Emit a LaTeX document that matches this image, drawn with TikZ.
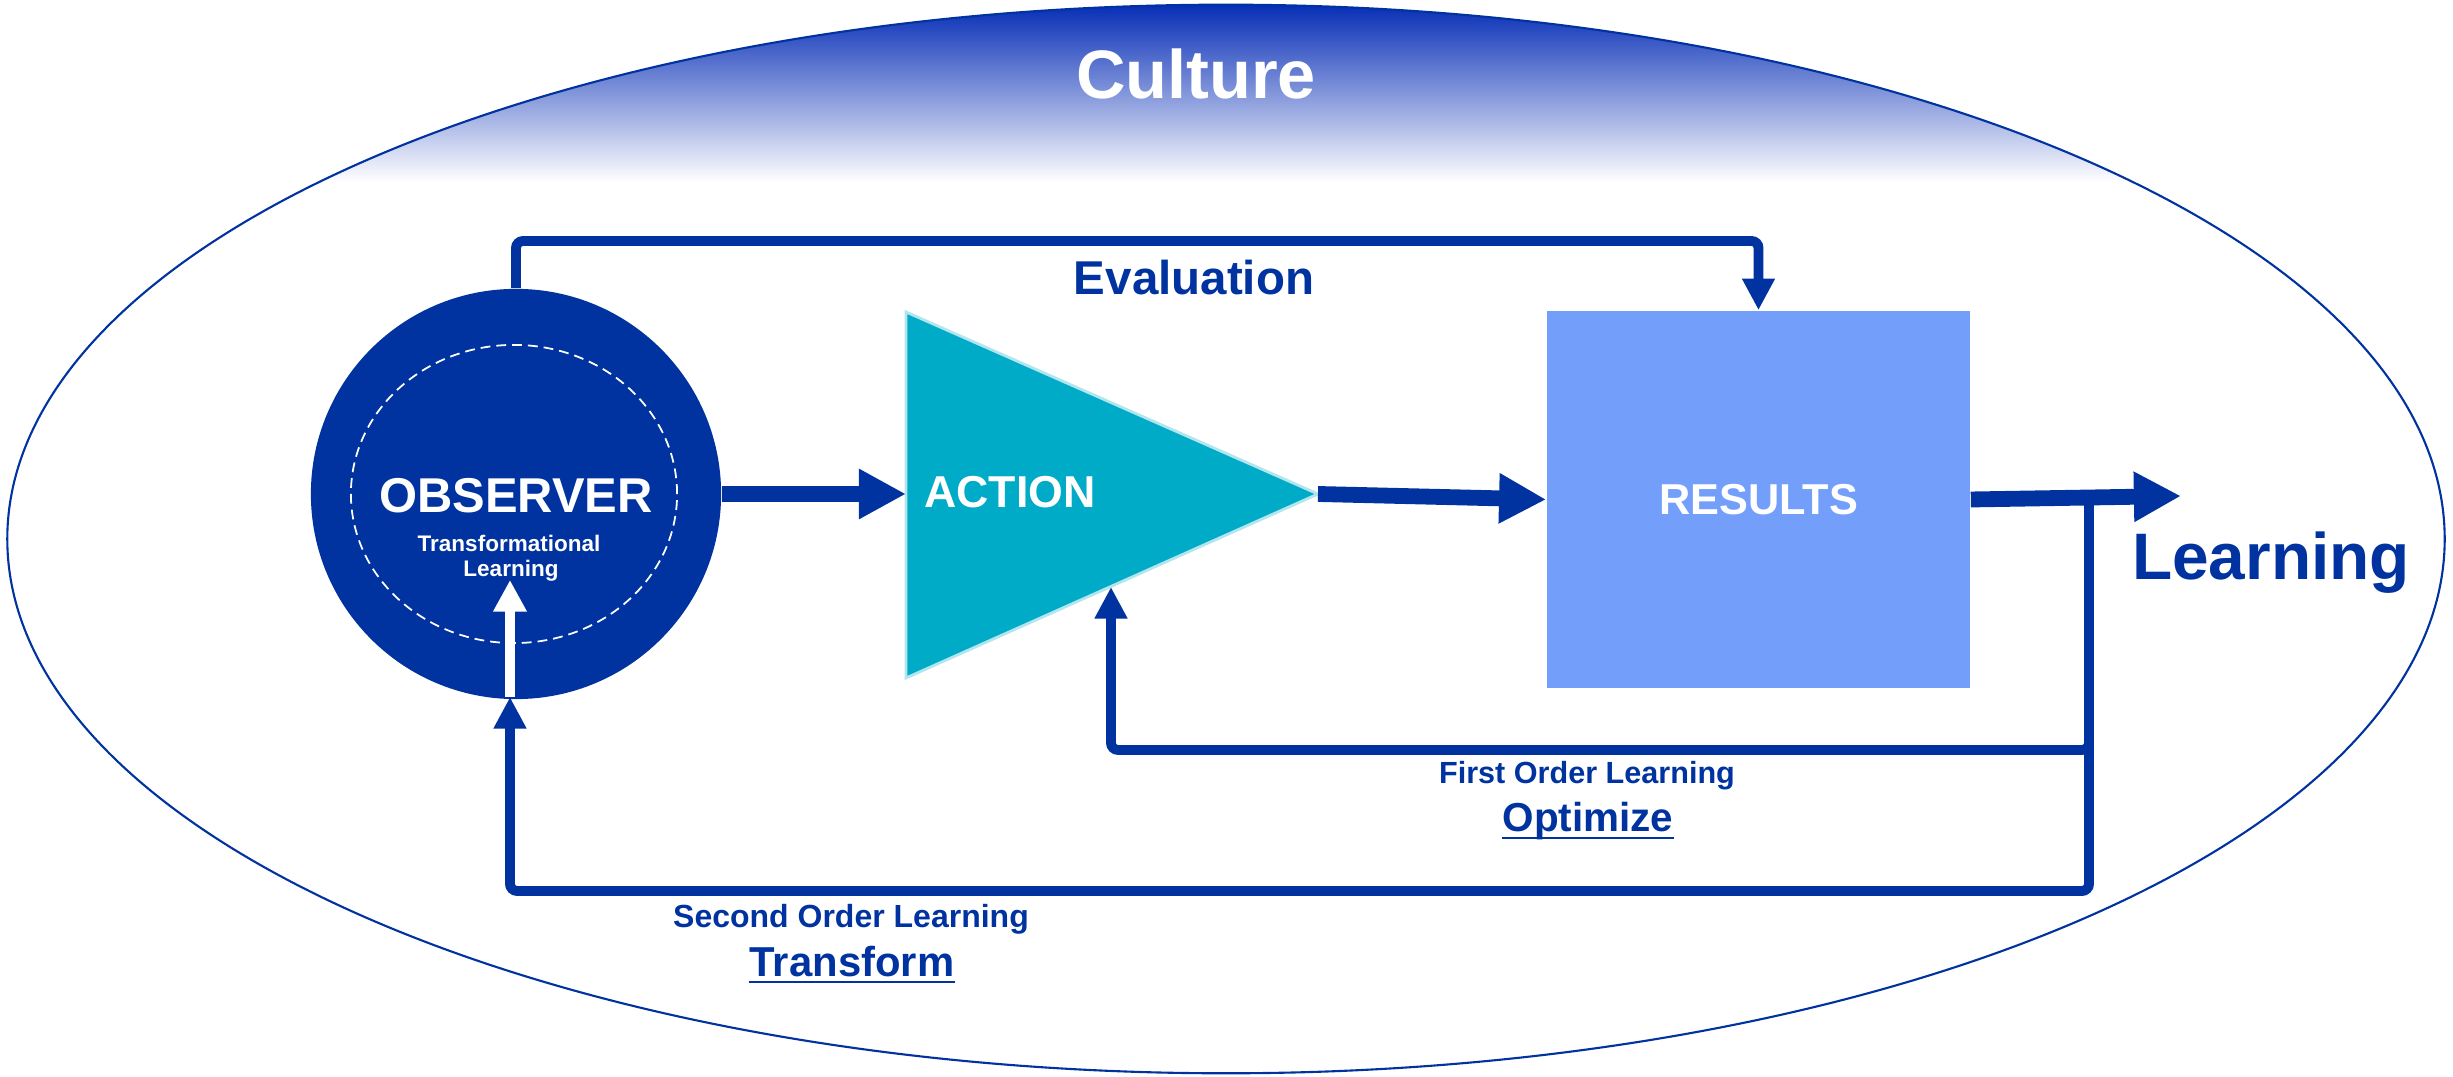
\documentclass[tikz,border=0pt]{standalone}
\usepackage{fontspec}
\setmainfont{Liberation Sans}
\usetikzlibrary{arrows.meta}

\definecolor{navy}{RGB}{0,51,160}
\definecolor{culturetop}{RGB}{0,40,180}
\definecolor{actfill}{RGB}{0,171,200}
\definecolor{resfill}{RGB}{115,159,251}

\begin{document}
\begin{tikzpicture}[x=0.01cm,y=-0.01cm,
    bigarrow/.style={navy,line width=4.5pt,-{Triangle[length=13.4pt,width=13.4pt]}},
    looparrow/.style={navy,line width=2.8pt,rounded corners=2pt,-{Triangle[length=9pt,width=8.8pt]}},
    lbl/.style={inner sep=0pt,anchor=base}]
  \useasboundingbox (0,0) rectangle (2453,1077);

  % culture
  \begin{scope}
    \clip (1226,539) ellipse [x radius=12.18cm,y radius=5.34cm];
    \shade [top color=culturetop,bottom color=white] (0,0) rectangle (2453,182);
  \end{scope}
  \draw [navy,line width=0.6pt] (1226,539) ellipse [x radius=12.18cm,y radius=5.34cm];
  \node (culture) [lbl,white,font=\fontsize{19.5}{23}\selectfont\bfseries] at (1196,99) {Culture};

  % observer
  \node (obs) [circle,fill=navy,minimum size=4.1cm,inner sep=0pt] at (516,494) {};
  \draw [white,line width=0.5pt,dash pattern=on 2.8pt off 1.7pt] (514,494) ellipse [x radius=1.63cm,y radius=1.49cm];
  \node (obsname) [lbl,white,font=\fontsize{13.9}{16}\selectfont\bfseries] at (516,513) {OBSERVER};
  \node (obssub) [lbl,white,font=\fontsize{6.4}{7.5}\selectfont\bfseries] at (509,552) {Transformational};
  \node (obssub2) [lbl,white,font=\fontsize{6.4}{7.5}\selectfont\bfseries] at (511,577) {Learning};

  % action
  \coordinate (acttop) at (906,312);
  \coordinate (actlow) at (906,678);
  \coordinate (actout) at (1318,494);
  \coordinate (actin) at (906,494);
  \coordinate (actbot) at (1111,587);
  \filldraw [fill=actfill,draw=actfill!30!white,line width=0.8pt] (acttop) -- (actout) -- (actlow) -- cycle;
  \node (act) [lbl,white,font=\fontsize{12.7}{15}\selectfont\bfseries] at (1010,508) {ACTION};

  % results
  \node (res) [fill=resfill,minimum width=4.23cm,minimum height=3.77cm,inner sep=0pt,
    text=white,font=\fontsize{12.3}{15}\selectfont\bfseries] at (1758.5,499.5) {RESULTS};

  % forward path
  \draw [bigarrow] (obs.east) -- (actin);
  \draw [bigarrow] (actout) -- (res.west);
  \coordinate (learn) at (2181,496);
  \draw [bigarrow] (res.east) -- (learn);
  \node (learning) [lbl,navy,font=\fontsize{18.7}{22}\selectfont\bfseries] at (2271,580) {Learning};

  % evaluation
  \coordinate (evaly) at (0,241);
  \draw [looparrow] (obs.north) -- (obs.north |- evaly) -| (res.north);
  \node (eval) [lbl,navy,font=\fontsize{13.5}{16}\selectfont\bfseries] at (1194,295) {Evaluation};

  % feedback loops
  \coordinate (split) at (2089,498);
  \coordinate (fol) at (1111,750);
  \coordinate (sol) at (510,891);
  \coordinate (obsin) at (510,697);
  \coordinate (obstip) at (510,580);
  \draw [looparrow] (split) |- (fol) -- (actbot);
  \draw [looparrow] (split) |- (sol) -- (obsin);
  \draw [white,line width=2.6pt,-{Triangle[length=9pt,width=9pt]}] (obsin) -- (obstip);

  \node (fo) [lbl,navy,font=\fontsize{8.7}{10}\selectfont\bfseries] at (1587,784) {First Order Learning};
  \node (opt) [lbl,navy,font=\fontsize{11.5}{14}\selectfont\bfseries] at (1588,832) {Optimize};
  \draw [navy,line width=0.6pt] ([yshift=-1.7pt]opt.base west) -- ([yshift=-1.7pt]opt.base east);
  \node (so) [lbl,navy,font=\fontsize{9.1}{11}\selectfont\bfseries] at (851,928) {Second Order Learning};
  \node (trans) [lbl,navy,font=\fontsize{11.9}{14}\selectfont\bfseries] at (852,977) {Transform};
  \draw [navy,line width=0.6pt] ([yshift=-1.5pt]trans.base west) -- ([yshift=-1.5pt]trans.base east);
\end{tikzpicture}
\end{document}
